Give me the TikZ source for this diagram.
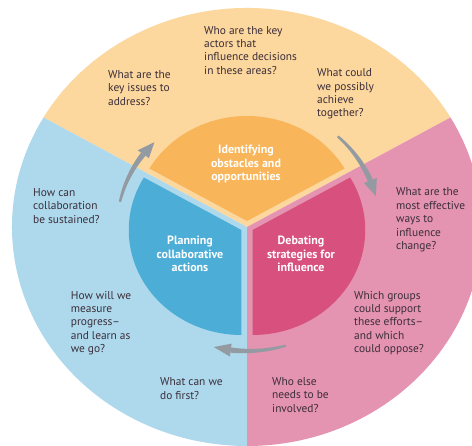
\documentclass[tikz,border=0pt]{standalone}
\usepackage{fontspec}
\setmainfont{PT Sans}
\usetikzlibrary{arrows.meta}
\definecolor{outO}{HTML}{FCD79E}
\definecolor{outB}{HTML}{AED9EC}
\definecolor{outP}{HTML}{E493B0}
\definecolor{inO}{HTML}{F8B55A}
\definecolor{inB}{HTML}{4CADD6}
\definecolor{inP}{HTML}{D7507E}
\definecolor{txt}{HTML}{3B2E3A}
\definecolor{arr}{HTML}{939AA1}
\newcommand\Swoosh[4][arr]{%
 \fill[#1] plot[domain=#3:#4, samples=25] ({(#2+1.1+1.5*((#3)-\x)/((#3)-(#4)))*cos(\x)}, {(#2+1.1+1.5*((#3)-\x)/((#3)-(#4)))*sin(\x)})
   -- plot[domain=#4:#3, samples=25] ({(#2-1.1-1.5*((#3)-\x)/((#3)-(#4)))*cos(\x)}, {(#2-1.1-1.5*((#3)-\x)/((#3)-(#4)))*sin(\x)}) -- cycle;
 \fill[#1] ({(#2+6.5)*cos(#4)}, {(#2+6.5)*sin(#4)}) -- ({#2*cos(#4-7.5)}, {#2*sin(#4-7.5)}) -- ({(#2-6.5)*cos(#4)}, {(#2-6.5)*sin(#4)}) -- cycle;
}
\tikzset{
  q/.style={anchor=west, align=left, text=txt, font=\fontsize{11.4}{13.4}\selectfont, inner sep=0pt},
  hub/.style={align=center, text=white, font=\bfseries\fontsize{12}{13.4}\selectfont, inner sep=0pt}
}
\begin{document}
\begin{tikzpicture}[x=1pt, y=-1pt]
\useasboundingbox (0,0) rectangle (472,446);
\fill[white] (0,0) rectangle (472,446);
\clip (0,0) rectangle (472,446);
\begin{scope}[shift={(247pt,-227pt)}, x=1pt, y=1pt, xscale=1.073]
  % outer sectors
  \fill[outO] (0,0) -- (30:219) arc[start angle=30, end angle=150, radius=219pt] -- cycle;
  \fill[outB] (0,0) -- (150:219) arc[start angle=150, end angle=270, radius=219pt] -- cycle;
  \fill[outP] (0,0) -- (270:219) arc[start angle=270, end angle=390, radius=219pt] -- cycle;
  % inner sectors
  \begin{scope}[shift={(90:6)}]
    \fill[inO] (0,0) -- (30:105) arc[start angle=30, end angle=150, radius=105pt] -- cycle;
  \end{scope}
  \begin{scope}[shift={(210:6)}]
    \fill[inB] (0,0) -- (150:105) arc[start angle=150, end angle=270, radius=105pt] -- cycle;
  \end{scope}
  \begin{scope}[shift={(330:6)}]
    \fill[inP] (0,0) -- (270:105) arc[start angle=270, end angle=390, radius=105pt] -- cycle;
  \end{scope}
  % cycle arrows
  \Swoosh{121}{168}{143}
  \Swoosh{124}{47}{22}
  \Swoosh{124}{287}{263}
\end{scope}
% hub labels
\node[hub] (h1) at (246,164) {Identifying\\obstacles and\\opportunities};
\node[hub] (h2) at (190,254) {Planning\\collaborative\\actions};
\node[hub] (h3) at (301,254) {Debating\\strategies for\\influence};
% questions
\node[q] (q1) at (204,50.3) {Who are the key\\actors that\\influence decisions\\in these areas?};
\node[q] (q2) at (108,87.7) {What are the\\key issues to\\address?};
\node[q] (q3) at (317,94) {What could\\we possibly\\achieve\\together?};
\node[q] (q4) at (33,206) {How can\\collaboration\\be sustained?};
\node[q] (q5) at (396,220) {What are the\\most effective\\ways to\\influence\\change?};
\node[q] (q6) at (70.7,323) {How will we\\measure\\progress–\\and learn as\\we go?};
\node[q] (q7) at (354,323) {Which groups\\could support\\these efforts–\\and which\\could oppose?};
\node[q] (q8) at (160,388.5) {What can we\\do first?};
\node[q] (q9) at (272,395) {Who else\\needs to be\\involved?};
\end{tikzpicture}
\end{document}
